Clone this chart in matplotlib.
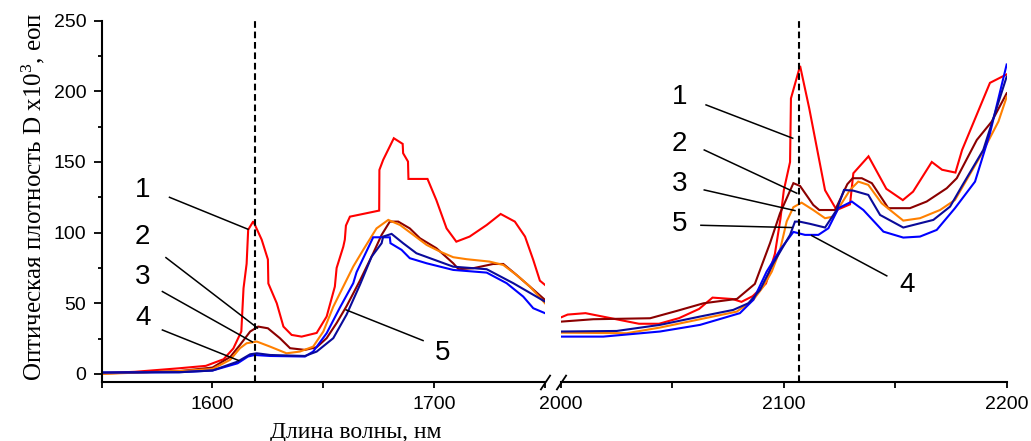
import matplotlib
matplotlib.use("Agg")
import matplotlib.pyplot as plt
from matplotlib.ticker import MultipleLocator

# --- данные: левая часть (1550-1750 нм) ---
x1_l = [1550, 1565, 1585, 1597, 1605, 1609.4, 1613, 1614, 1615.4, 1616.1, 1618.4, 1622.2, 1625, 1625.2,
        1629, 1632, 1635.7, 1640.2, 1647, 1651.5, 1655.2, 1656, 1659, 1659.7, 1660.2, 1662, 1675.2, 1675.3,
        1677, 1681.8, 1685.8, 1686, 1688.2, 1688.4, 1697, 1701, 1705.6, 1710, 1716, 1723.7, 1730, 1736.4,
        1741, 1744.7, 1747.7, 1750]
y1_l = [0.5, 1.5, 4, 5.7, 10.4, 18, 30, 60.6, 78, 102, 108, 95, 81, 64,
        50, 33.5, 27.6, 26.4, 29, 40.6, 61.8, 75, 90, 95, 105, 111.3, 115.6, 144.4,
        151.5, 166.8, 162.8, 156.2, 150.3, 138, 138, 123, 103, 93.6, 97.2, 105.4, 113.2, 107.8,
        97.2, 80.7, 66, 63]

x2_l = [1550, 1585, 1600, 1608, 1612.4, 1617, 1620.6, 1625, 1630.4, 1635, 1641.7, 1647, 1651.5, 1656,
        1660.5, 1666.5, 1672.5, 1676.3, 1680, 1683.8, 1689, 1693.6, 1701, 1708.6, 1711, 1717.6, 1726.6,
        1731.2, 1737.2, 1743.2, 1750]
y2_l = [0.3, 2, 4.5, 12, 20.5, 30, 33.5, 32.3, 25.3, 18.2, 17, 18.9, 25.3, 36,
        48, 66, 85.4, 98.4, 107.8, 107.8, 103, 96, 89, 78.3, 74.1, 74.8, 77.8,
        77.8, 70, 61.8, 52.4]

x3_l = [1550, 1585, 1600, 1608, 1612.4, 1615.4, 1620, 1626, 1633.4, 1639.4, 1645.4, 1650, 1654.5, 1659,
        1663.5, 1668, 1674, 1679.3, 1684.6, 1690.6, 1696.6, 1702.6, 1708.6, 1714.6, 1725, 1731.2, 1737.2,
        1743.2, 1750]
y3_l = [0, 2, 3.5, 10, 18.2, 21.7, 22.9, 19.3, 14.6, 15.8, 19.3, 30, 47.6, 61.8,
        76, 87.8, 103, 109, 105.4, 98.4, 91.3, 86.6, 82.6, 81.2, 79.5, 77.1, 70,
        61.8, 50]

x4_l = [1550, 1585, 1600, 1611.3, 1616, 1619, 1626, 1641.7, 1645.4, 1651.5, 1657.5, 1663.5, 1665, 1672.5,
        1680, 1680.3, 1685.3, 1689, 1696.6, 1708.6, 1723.7, 1732.7, 1740.2, 1744.7, 1750]
y4_l = [1, 1.2, 2.4, 7.5, 12.3, 13.4, 12.7, 12.3, 15.8, 28.8, 47, 64.2, 72, 96.7,
        96.7, 92.5, 87.8, 81.9, 78.3, 73.6, 71.7, 64.2, 54.7, 46.5, 43]

x5_l = [1550, 1585, 1600, 1611.3, 1617, 1620, 1626, 1641.7, 1647, 1654.5, 1660.5, 1666.5, 1671.8, 1676.3,
        1677, 1680.8, 1686, 1692, 1708.6, 1723.7, 1735.7, 1750]
y5_l = [1, 1.2, 2.4, 8.7, 13.9, 14.6, 13.4, 12.7, 15.8, 25.3, 42, 63, 83, 92.5,
        97.2, 99.1, 92.5, 85.4, 75.9, 74.1, 64.2, 51.2]

# --- данные: правая часть (2000-2200 нм) ---
x1_r = [2000, 2003, 2011, 2027, 2035, 2044, 2053, 2062, 2068, 2077, 2081, 2086, 2092, 2096, 2098.5, 2100,
        2102.8, 2103.2, 2107.3, 2111.4, 2118.5, 2123.7, 2129.7, 2131.2, 2138, 2146, 2153.4, 2158, 2166.4,
        2171, 2177, 2180, 2192.5, 2200]
y1_r = [40, 42, 43, 38, 35.5, 35.5, 39.5, 46, 54, 53, 51, 55, 64, 85, 110, 130,
        150, 195, 218, 188, 130, 116, 120, 142, 154, 131, 123, 129, 150,
        144.5, 142.5, 158.5, 206, 212]

x2_r = [2000, 2014.5, 2040, 2052, 2064, 2079, 2087, 2093.8, 2098.3, 2104.3, 2107.3, 2113.2, 2115.9, 2123,
        2128.5, 2130.9, 2135, 2139.5, 2146.9, 2156.6, 2164.1, 2173.1, 2177.6, 2186.6, 2193.3, 2200]
y2_r = [37, 38.7, 39.4, 44.6, 50, 53.1, 63.7, 92.5, 113.7, 135, 133, 119.6, 116, 116,
        134.3, 138.5, 138.5, 135, 117.3, 117.3, 122, 131.4, 138.5, 165.6, 178.6, 198.6]

x3_r = [2000, 2029.5, 2044.4, 2062.4, 2078.9, 2086.3, 2090.8, 2094.6, 2098.3, 2101.3, 2104.3, 2108, 2113.2,
        2118.5, 2122.2, 2129.7, 2133.4, 2137.9, 2143.9, 2153.6, 2161.1, 2170.1, 2176.8, 2188.1, 2196.3, 2200]
y3_r = [29.2, 28.8, 32.8, 38.7, 44.1, 52.4, 61.8, 72.4, 87.8, 108, 118, 121.2, 116,
        110.2, 111.3, 130.2, 136.1, 133.8, 120.8, 108.5, 110.2, 116, 123.1, 153.8, 178.6, 196]

x4_r = [2000, 2019, 2044.4, 2062.4, 2080.3, 2086.3, 2092.3, 2098.3, 2104.3, 2109.5, 2115.5, 2120, 2124.5,
        2130.5, 2135.7, 2144.7, 2153.6, 2161.1, 2168.6, 2176.8, 2185.8, 2192.5, 2200]
y4_r = [26.4, 26.4, 30, 34.7, 43, 52.4, 72.4, 87.8, 100.5, 98.4, 98.4, 103.1, 117.3,
        122, 116, 100.7, 96.5, 97.2, 101.9, 117.3, 136.1, 170.3, 219]

x5_r = [2000, 2025, 2044.4, 2062.4, 2077.3, 2084.1, 2089.3, 2095.3, 2102.8, 2105, 2107, 2111.8, 2118.5,
        2123.7, 2127, 2131.2, 2137.9, 2143.2, 2153.6, 2167.1, 2174.6, 2179.8, 2189.5, 2200]
y5_r = [30, 30.4, 34.7, 40.6, 45.3, 50, 59.4, 78.3, 98.4, 107.8, 107.8, 106.2, 103.6,
        116, 130.2, 129.7, 126.7, 112.5, 103.6, 109, 118.4, 132.6, 158.5, 210.4]

colors = ['#ff0000', '#8b0000', '#ff8000', '#0000ff', '#0a0a9a']

curves_l = [(x1_l, y1_l), (x2_l, y2_l), (x3_l, y3_l), (x4_l, y4_l), (x5_l, y5_l)]
curves_r = [(x1_r, y1_r), (x2_r, y2_r), (x3_r, y3_r), (x4_r, y4_r), (x5_r, y5_r)]

# метки кривых: (текст, позиция текста, начало линии, конец линии)
labels_l = [('1', (1568.5, 130), (1580.6, 125), (1616, 102.4)),
            ('2', (1568.5, 96.7), (1579, 82.3), (1620.3, 32.5)),
            ('3', (1568.5, 68.9), (1577.4, 58.3), (1618, 22.6)),
            ('4', (1568.5, 39.4), (1577.4, 31.1), (1611.8, 9.5)),
            ('5', (1703.9, 15.1), (1695, 23.6), (1660.3, 45.3))]
labels_r = [('1', (2053.1, 196.3), (2065.1, 190.4), (2104, 166.8)),
            ('2', (2053.1, 162.8), (2064.3, 158.5), (2105.8, 127.9)),
            ('3', (2053.1, 134.2), (2064.3, 130.2), (2105, 115.6)),
            ('5', (2053.1, 106.2), (2062.8, 105.2), (2103.5, 103.6)),
            ('4', (2155.2, 63), (2146.2, 69.4), (2112.5, 97.9))]

dash_l = 1619
dash_r = 2107

plt.rcParams['font.family'] = ['Liberation Sans', 'DejaVu Sans']
plt.rcParams['mathtext.default'] = 'regular'

fig = plt.figure(figsize=(10.31, 4.41), dpi=100)
ax1 = fig.add_axes([0.0986, 0.1345, 0.4300, 0.8186])
ax2 = fig.add_axes([0.5441, 0.1345, 0.4323, 0.8186])

for ax, curves, labs, xl, dx in [(ax1, curves_l, labels_l, (1550, 1750), dash_l),
                                 (ax2, curves_r, labels_r, (2000, 2200), dash_r)]:
    for (xs, ys), c in zip(curves, colors):
        ax.plot(xs, ys, color=c, lw=1.5, solid_joinstyle='miter')
    ax.axvline(dx, color='black', lw=1.5, dashes=(3.2, 1.8))
    for t, tp, p0, p1 in labs:
        ax.plot([p0[0], p1[0]], [p0[1], p1[1]], color='black', lw=1.1)
        ax.text(tp[0], tp[1], t, fontsize=20, ha='center', va='center')
    ax.set_xlim(*xl)
    ax.set_ylim(-5.5, 250)
    ax.xaxis.set_major_locator(MultipleLocator(100))
    ax.xaxis.set_minor_locator(MultipleLocator(50))
    for s in ['top', 'right']:
        ax.spines[s].set_visible(False)
    ax.spines['bottom'].set_linewidth(1.5)
    ax.tick_params(axis='x', which='both', direction='out', length=4, width=1.3, labelsize=14, pad=6)

ax1.spines['left'].set_linewidth(1.5)
ax1.yaxis.set_major_locator(MultipleLocator(50))
ax1.yaxis.set_minor_locator(MultipleLocator(25))
ax1.tick_params(axis='y', which='major', direction='out', length=6, width=1.3, labelsize=14, pad=5)
ax1.tick_params(axis='y', which='minor', direction='out', length=3, width=1.3)
ax1.set_xticks([1600, 1700])

ax2.spines['left'].set_visible(False)
ax2.set_yticks([])
ax2.tick_params(axis='y', which='both', left=False)

# знаки разрыва оси
kw = dict(marker=[(-1, -1.5), (1, 1.5)], markersize=11, linestyle='none', color='black', mec='black',
          mew=1.3, clip_on=False)
ax1.plot([1], [0], transform=ax1.transAxes, **kw)
ax2.plot([0], [0], transform=ax2.transAxes, **kw)

fig.text(0.032, 0.555, 'Оптическая плотность D x10$\\mathregular{^{3}}$, еоп', rotation=90,
         ha='center', va='center', fontsize=18, family='Liberation Serif')
fig.text(0.345, 0.02, 'Длина волны, нм', ha='center', va='center', fontsize=17, family='Liberation Serif')

fig.savefig('out.png', dpi=100)
